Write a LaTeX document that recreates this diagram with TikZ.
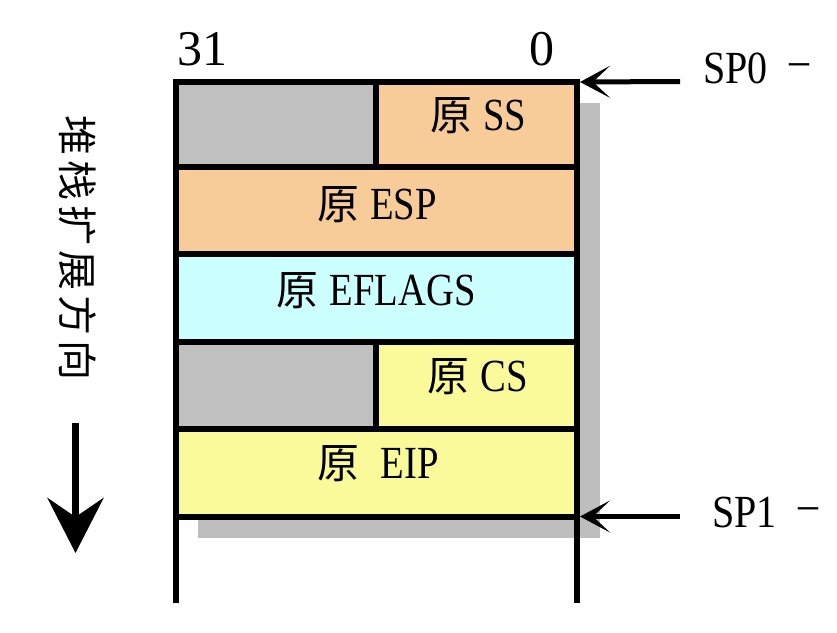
\documentclass[tikz,border=0pt]{standalone}
\usepackage{fontspec}
\setmainfont{Liberation Serif}
\newfontfamily\labfont[FakeStretch=0.84]{Liberation Serif}
\newfontfamily\spfont[FakeStretch=0.87]{Liberation Serif}
\newfontfamily\cjk{Noto Sans CJK SC}
\usetikzlibrary{arrows.meta}
\definecolor{cellgray}{HTML}{C0C0C0}
\definecolor{shadowgray}{HTML}{BEBEBE}
\definecolor{cellorange}{HTML}{F8CC98}
\definecolor{cellcyan}{HTML}{CCFFFF}
\definecolor{cellyellow}{HTML}{FAFA9B}
\newcommand\yuanchar{{\fontsize{42}{42}\selectfont\cjk 原}}
\begin{document}
\begin{tikzpicture}[x=1pt,y=-1pt,
  cell/.style={draw=black, line width=6pt, rectangle, inner sep=0pt, outer sep=0pt},
  lab/.style={inner sep=0pt, anchor=base, font=\fontsize{46}{46}\selectfont\labfont},
  bits/.style={inner sep=0pt, anchor=base, font=\fontsize{50}{50}\selectfont},
  splab/.style={inner sep=0pt, anchor=base west, font=\fontsize{46}{46}\selectfont\spfont},
  frame/.style={line width=6pt, line cap=butt},
  ptr/.style={line width=5pt, -{Stealth[length=30pt,width=32pt,inset=17pt]}},
  dirarrow/.style={line width=6.5pt, -{Stealth[length=55pt,width=56pt,inset=19pt]}}]
\useasboundingbox (0,0) rectangle (837,632);
\fill[white] (0,0) rectangle (837,632);
% shadow
\fill[shadowgray] (198,103) rectangle (600,538);
% cells
\node[cell, fill=cellgray, minimum width=200pt, minimum height=85pt] (ssgray) at (276,124.5) {};
\node[cell, fill=cellorange, minimum width=201pt, minimum height=85pt] (ss) at (476.5,124.5) {};
\node[cell, fill=cellorange, minimum width=401pt, minimum height=86.5pt] (esp) at (376.5,210.25) {};
\node[cell, fill=cellcyan, minimum width=401pt, minimum height=88.5pt] (eflags) at (376.5,297.75) {};
\node[cell, fill=cellgray, minimum width=200pt, minimum height=87pt] (csgray) at (276,385.5) {};
\node[cell, fill=cellyellow, minimum width=201pt, minimum height=87pt] (cs) at (476.5,385.5) {};
\node[cell, fill=cellyellow, minimum width=401pt, minimum height=87.5pt] (eip) at (376.5,472.75) {};
% extensions of the stack walls
\coordinate (lbot) at (176,603);
\coordinate (rbot) at (577,603);
\draw[frame] (eip.south west) -- (lbot);
\draw[frame] (eip.south east) -- (rbot);
% labels in cells
\node[lab] (sslab) at (478,130) {\yuanchar\hspace{11pt}SS};
\node[lab] (esplab) at (377,219) {\yuanchar\hspace{11pt}ESP};
\node[lab] (eflagslab) at (376,305) {\yuanchar\hspace{11pt}EFLAGS};
\node[lab] (cslab) at (478,391) {\yuanchar\hspace{11pt}CS};
\node[lab] (eiplab) at (378,478) {\yuanchar\hspace{21pt}EIP};
% bit numbers
\node[bits] (b31) at (202,65) {31};
\node[bits] (b0) at (541.5,65) {0};
% stack pointers
\node[splab] (sp0) at (703,83) {SP0\hspace{22pt}\raisebox{8pt}{–}};
\node[splab] (sp1) at (712,527) {SP1\hspace{22pt}\raisebox{8pt}{–}};
\coordinate (sp0tail) at (680,81.5);
\coordinate (sp1tail) at (680,516.5);
\draw[ptr] (sp0tail) -- ([xshift=3pt]ss.north east);
\draw[ptr] (sp1tail) -- ([xshift=3pt]eip.south east);
% growth direction
\node[rotate=-90, inner sep=0pt, font=\fontsize{40}{40}\selectfont\cjk] (dir) at (78,248)
  {堆\hspace{5pt}栈\hspace{5pt}扩\hspace{5pt}展\hspace{5pt}方\hspace{5pt}向};
\coordinate (dtop) at (75.5,423);
\coordinate (dtip) at (75.5,553);
\draw[dirarrow] (dtop) -- (dtip);
\end{tikzpicture}
\end{document}
